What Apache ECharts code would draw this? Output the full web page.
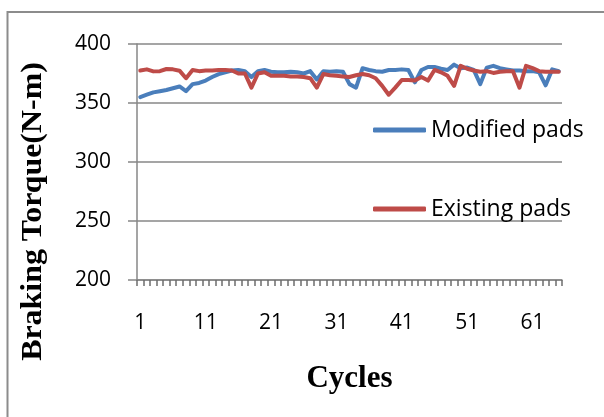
<!DOCTYPE html>
<html>
<head>
<meta charset="utf-8">
<script src="https://cdn.jsdelivr.net/npm/echarts@6/dist/echarts.min.js"></script>
<style>
html,body{margin:0;padding:0;background:#fff;}
#c{width:604px;height:417px;}
</style>
</head>
<body>
<div id="c"></div>
<script>
var cycles = ['1','2','3','4','5','6','7','8','9','10','11','12','13','14','15','16','17','18','19','20',
  '21','22','23','24','25','26','27','28','29','30','31','32','33','34','35','36','37','38','39','40',
  '41','42','43','44','45','46','47','48','49','50','51','52','53','54','55','56','57','58','59','60',
  '61','62','63','64','65'];
var modifiedPads = [355,357,359,360,361,362.5,364,360,366,367,369,372,374.5,376,377.5,378,377,372,377,378,
  376.5,376,376,376.5,376,375,377,370,377,376.5,377,376.5,366,363,379.5,378,377,376.5,378,378,
  378.5,378,367.5,378,380.5,380.5,379,378,382.5,379.5,380,378,366,380,381.5,379.5,378.5,377.5,377.5,377,
  377,376,365,378.5,377];
var existingPads = [377.5,378.5,376.8,377,378.8,378.5,377.4,371,378,377,377.5,377.5,378,378,377.5,375,375,363,375,376,
  373,373,373,372.5,372.5,372,371,363,374.5,373.5,373,372.5,372,373.5,374.5,373.5,371,364.5,357,363,
  369.5,369.5,369,372,369,378,376,373,364.5,381.5,379,377.5,376.5,377,375.5,376.5,377,377,363,381.5,
  379.5,377,376.5,376.5,376.5];
var yTicks = {min:200, max:400, step:50};
var seriesNames = ['Modified pads','Existing pads'];
var xTitle = 'Cycles';
var yTitle = 'Braking Torque(N-m)';

var chart = echarts.init(document.getElementById('c'));
var gridColor = '#878787';
var labelFont = '"Open Sans", "Liberation Sans", sans-serif';
var serifFont = '"Liberation Serif", "Times New Roman", serif';
chart.setOption({
  backgroundColor:'#ffffff',
  animation:false,
  grid:{left:137, right:42, top:44, bottom:137},
  legend:[
    {data:[seriesNames[0]], orient:'vertical', left:368, top:112, icon:'roundRect', itemWidth:53, itemHeight:5,
     textStyle:{fontFamily:labelFont, fontSize:23, color:'#000', lineHeight:26}},
    {data:[seriesNames[1]], orient:'vertical', left:368, top:191, icon:'roundRect', itemWidth:53, itemHeight:5,
     textStyle:{fontFamily:labelFont, fontSize:23, color:'#000', lineHeight:26}}
  ],
  xAxis:{
    type:'category', data:cycles, boundaryGap:true,
    name:xTitle, nameLocation:'middle', nameGap:83,
    nameTextStyle:{fontFamily:serifFont, fontWeight:'bold', fontSize:31, color:'#000'},
    axisLine:{show:true, lineStyle:{color:gridColor, width:1.5}},
    axisTick:{show:true, interval:0, length:6, lineStyle:{color:'#6e6e6e', width:1.5}},
    axisLabel:{interval:9, margin:33, fontFamily:labelFont, fontSize:21, color:'#000'},
    splitLine:{show:false}
  },
  yAxis:{
    type:'value', min:yTicks.min, max:yTicks.max, interval:yTicks.step,
    axisLine:{show:true, lineStyle:{color:gridColor, width:1.5}},
    axisTick:{show:true, length:9, lineStyle:{color:gridColor, width:1.5}},
    axisLabel:{margin:26, fontFamily:labelFont, fontSize:21, color:'#000'},
    splitLine:{show:true, lineStyle:{color:gridColor, width:1.5}}
  },
  graphic:[
    {type:'rect', shape:{x:7.5, y:12, width:640, height:440}, style:{fill:'none', stroke:'#8c8c8c', lineWidth:2}, silent:true},
    {type:'text', x:34, y:211.5, rotation:Math.PI/2, scaleX:1.1, silent:true,
     style:{text:yTitle, font:'bold 29px ' + serifFont, fill:'#000', textAlign:'center', textVerticalAlign:'middle'}}
  ],
  series:[
    {name:seriesNames[0], type:'line', data:modifiedPads, symbol:'none', color:'#4a7ebb',
     lineStyle:{width:4, color:'#4a7ebb', join:'round', cap:'round'}},
    {name:seriesNames[1], type:'line', data:existingPads, symbol:'none', color:'#be4b48',
     lineStyle:{width:4, color:'#be4b48', join:'round', cap:'round'}}
  ]
});
</script>
</body>
</html>
